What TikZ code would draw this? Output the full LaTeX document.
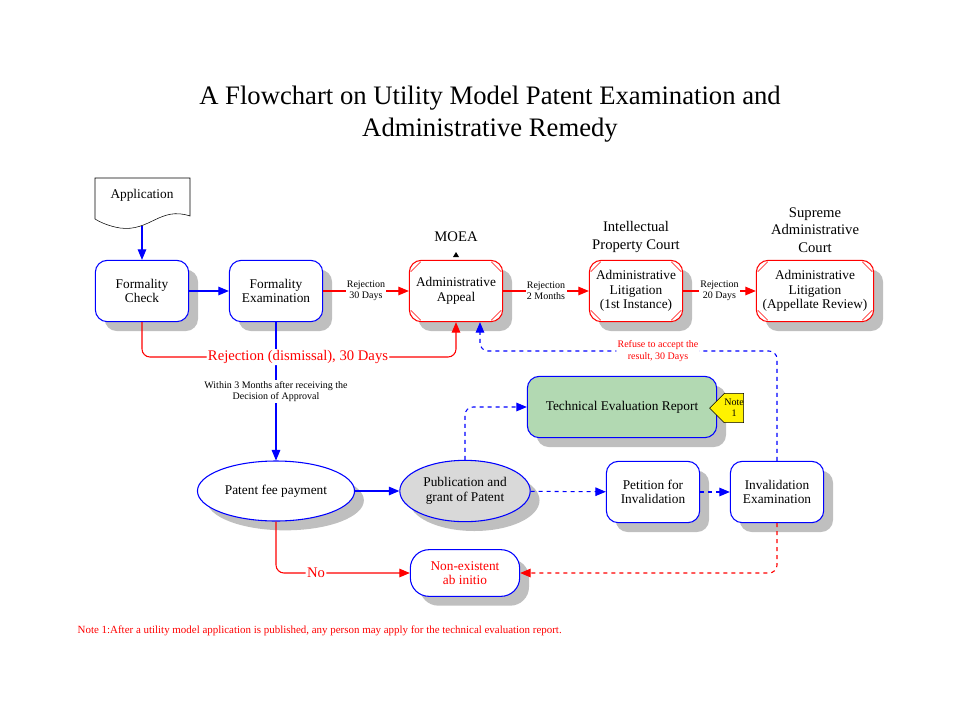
\documentclass[tikz,border=0pt]{standalone}
\usepackage{fontspec}
\setmainfont{Liberation Serif}
\usetikzlibrary{positioning,shapes,arrows,shadows,calc}

\begin{document}
\begin{tikzpicture}[x=0.75pt, y=-0.75pt,
    font=\fontsize{10}{11}\selectfont,
    shade/.style={drop shadow={shadow xshift=7pt, shadow yshift=-7pt, opacity=1, fill=black!25}},
    bluebox/.style={
        rectangle,
        draw=blue,
        thick,
        fill=white,
        minimum width=70pt,
        minimum height=46pt,
        align=center,
        rounded corners=9pt,
        shade
    },
    redbox/.style={bluebox, draw=red},
    oval/.style={ellipse, draw=blue, thick, align=center, shade},
    arrow/.style={->, >=triangle 45, thick},
    lbl/.style={font=\fontsize{7.5}{8.5}\selectfont, text=black, align=center, fill=white, inner sep=1pt},
    big/.style={font=\fontsize{11}{13}\selectfont, align=center}]

    \useasboundingbox (0,0) rectangle (960,718);

    % Title
    \node[font=\fontsize{20}{24}\selectfont, align=center] (title) at (490,114)
        {A Flowchart on Utility Model Patent Examination and\\Administrative Remedy};

    % Application document
    \draw[fill=white] (95,178) -- (190,178) -- (190,216)
        .. controls (160,206) and (150,232) .. (120,228)
        .. controls (108,226) and (100,222) .. (95,219) -- cycle;
    \node (app) at (142,195) {Application};
    \coordinate (appb) at (142,226);

    % Top row
    \node[bluebox] (check) at (142,291) {Formality\\Check};
    \node[bluebox] (exam) at (276,291) {Formality\\Examination};
    \node[redbox] (appeal) at (456,291) {Administrative\\Appeal};
    \node[redbox] (lit1) at (636,291) {Administrative\\Litigation\\(1st Instance)};
    \node[redbox, minimum width=88pt] (lit2) at (815,291) {Administrative\\Litigation\\(Appellate Review)};

    % corner ticks on red boxes
    \foreach \n in {appeal,lit1,lit2} {
        \draw[red] ($(\n.north west)+(2,12)$) -- ($(\n.north west)+(12,2)$);
        \draw[red] ($(\n.north east)+(-2,12)$) -- ($(\n.north east)+(-12,2)$);
        \draw[red] ($(\n.south west)+(2,-12)$) -- ($(\n.south west)+(12,-2)$);
        \draw[red] ($(\n.south east)+(-2,-12)$) -- ($(\n.south east)+(-12,-2)$);
    }

    % Authorities
    \node[big] (moea) at (456,237) {MOEA};
    \fill (456,252) -- (453,257) -- (459,257) -- cycle;
    \node[big] (ipc) at (636,237) {Intellectual\\Property Court};
    \node[big] (sac) at (815,230) {Supreme\\Administrative\\Court};

    % Lower part
    \node[bluebox, fill=green!50!black!30, minimum width=142pt, minimum height=46pt] (ter) at (622,407) {Technical Evaluation Report};
    \node[draw, fill=yellow, shape=signal, signal to=west, minimum width=22pt, minimum height=22pt,
        inner sep=0pt, align=center, font=\fontsize{7.5}{8}\selectfont] (note) at (734,408) {Note\\1};
    \node[oval, fill=white, minimum width=106pt, minimum height=45pt] (fee) at (276,491) {Patent fee payment};
    \node[oval, fill=black!15, minimum width=84pt, minimum height=46pt] (pub) at (465,491) {Publication and\\grant of Patent};
    \node[bluebox] (petition) at (653,492) {Petition for\\Invalidation};
    \node[bluebox] (inval) at (777,492) {Invalidation\\Examination};
    \node[bluebox, text=red, minimum width=82pt, minimum height=35pt, rounded corners=14pt] (none) at (465,573) {Non-existent\\ab initio};

    % Connect with arrows
    \draw[arrow, blue] (appb) -- (check);
    \draw[arrow, blue] (check) -- (exam);
    \draw[arrow, red] (exam) -- (appeal) node[lbl, midway] {Rejection\\30 Days};
    \draw[arrow, red] (appeal) -- (lit1) node[lbl, midway] {Rejection\\2 Months};
    \draw[arrow, red] (lit1) -- (lit2) node[lbl, midway] {Rejection\\20 Days};
    \draw[arrow, blue] (exam.south) -- (fee.north)
        node[lbl, midway] {Within 3 Months after receiving the\\Decision of Approval};
    \draw[arrow, red, rounded corners=6pt] (check.south) |- (298,357)
        node[big, fill=white, inner sep=1pt, text=red] {Rejection (dismissal), 30 Days} -| (appeal.south);
    \draw[arrow, blue] (fee) -- (pub);
    \draw[arrow, blue, dashed, rounded corners=6pt] (pub.north) |- (ter.west);
    \draw[arrow, blue, dashed] (pub) -- (petition);
    \draw[arrow, blue, dashed] (petition) -- (inval);
    \draw[arrow, blue, dashed, rounded corners=6pt] (inval.north) |- (658,351)
        node[lbl, text=red] {Refuse to accept the\\result, 30 Days} -| ($(appeal.south)+(24,0)$);
    \draw[arrow, red, dashed, rounded corners=6pt] (inval.south) |- (none.east);
    \draw[arrow, red, rounded corners=6pt] (fee.south) |- (316,573)
        node[big, fill=white, inner sep=1pt, text=red] {No} -- (none.west);

    % Footnote
    \node[anchor=west, text=red, font=\fontsize{8.2}{9}\selectfont] (foot) at (73,631)
        {Note 1:After a utility model application is published, any person may apply for the technical evaluation report.};
\end{tikzpicture}
\end{document}
